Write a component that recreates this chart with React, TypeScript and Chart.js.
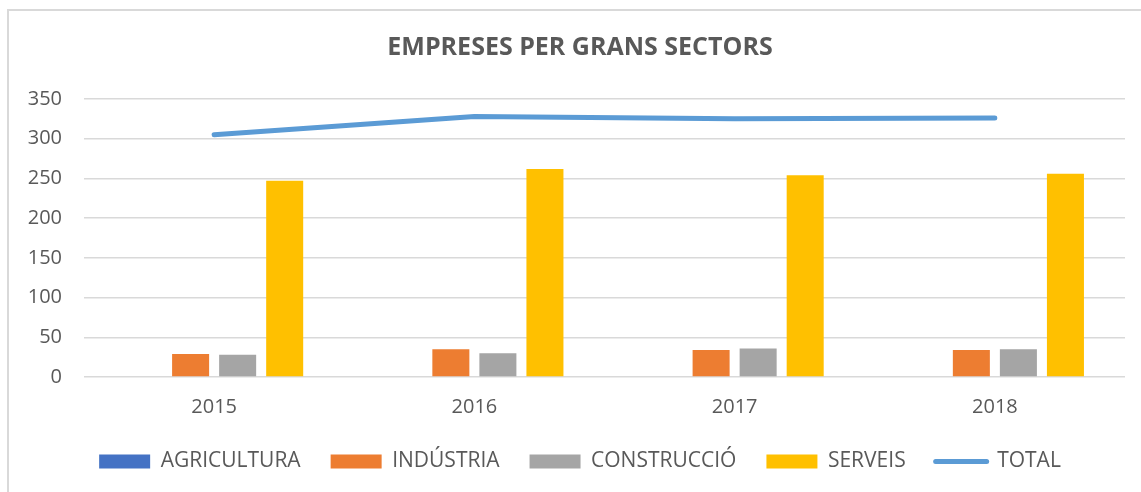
import React, { useEffect, useRef } from "react";
import { Chart, registerables } from "chart.js";

Chart.register(...registerables);

const categories = ["2015", "2016", "2017", "2018"];
const agricultura = [1, 1, 1, 1];
const industria = [29, 35, 34, 34];
const construccio = [28, 30, 36, 35];
const serveis = [247, 262, 254, 256];
const total = [305, 328, 325, 326];
const titleText = "EMPRESES PER GRANS SECTORS";

const FONT = "'Open Sans', 'Noto Sans', sans-serif";
const TEXT = "#595959";
const GRID = "#D9D9D9";

const unclipPlugin = {
  id: "unclipY",
  afterLayout(chart: any) {
    if (chart.scales && chart.scales.y) chart.scales.y.left = 0;
  },
};

export default function App() {
  const ref = useRef<HTMLCanvasElement | null>(null);

  useEffect(() => {
    if (!ref.current) return;
    const barCommon = { barPercentage: 0.787, categoryPercentage: 0.723, borderWidth: 0 };
    const chart = new Chart(ref.current, {
      type: "bar",
      data: {
        labels: categories,
        datasets: [
          { label: "AGRICULTURA", data: agricultura, backgroundColor: "#4472C4", ...barCommon },
          { label: "INDÚSTRIA", data: industria, backgroundColor: "#ED7D31", ...barCommon },
          { label: "CONSTRUCCIÓ", data: construccio, backgroundColor: "#A5A5A5", ...barCommon },
          { label: "SERVEIS", data: serveis, backgroundColor: "#FFC000", ...barCommon },
          {
            type: "line",
            label: "TOTAL",
            data: total,
            borderColor: "#5B9BD5",
            backgroundColor: "#5B9BD5",
            borderWidth: 5,
            borderCapStyle: "round",
            borderJoinStyle: "round",
            pointRadius: 0,
            tension: 0,
            fill: false,
          } as any,
        ],
      },
      options: {
        animation: false,
        responsive: false,
        layout: { padding: { left: 35, right: 16, top: 10, bottom: 10 } },
        scales: {
          x: {
            grid: { display: false, drawTicks: false },
            border: { display: false },
            ticks: { color: TEXT, font: { family: FONT, size: 20 }, padding: 18 },
            afterFit: (s: any) => { s.height = 44; },
          },
          y: {
            min: 0,
            max: 350,
            ticks: { stepSize: 50, color: TEXT, font: { family: FONT, size: 20 }, padding: 22 },
            grid: { color: GRID, lineWidth: 1.5, drawTicks: false },
            border: { display: false },
            afterFit: (s: any) => { s.width = 49; },
          },
        },
        plugins: {
          title: {
            display: true,
            text: titleText,
            color: TEXT,
            font: { family: FONT, size: 25, weight: "bold" },
            padding: { top: 22.5, bottom: 36.5 },
          },
          legend: {
            position: "bottom",
            labels: {
              usePointStyle: true,
              pointStyleWidth: 51,
              boxHeight: 14,
              padding: 30,
              color: TEXT,
              font: { family: FONT, size: 21 },
              generateLabels: (c: any) => {
                const items = Chart.defaults.plugins.legend.labels.generateLabels(c);
                return items.map((it: any, i: number) => {
                  if (i === 4) {
                    return { ...it, pointStyle: "line", lineWidth: 5, strokeStyle: "#5B9BD5", lineCap: "round" };
                  }
                  return { ...it, pointStyle: "rect", lineWidth: 0 };
                });
              },
            },
          },
          tooltip: { enabled: false },
        },
      },
      plugins: [unclipPlugin],
    });
    return () => chart.destroy();
  }, []);

  return (
    <>
      <div
        style={{
          position: "fixed",
          left: 7,
          top: 9,
          width: 1200,
          height: 600,
          borderLeft: "2px solid #D9D9D9",
          borderTop: "2px solid #D9D9D9",
          boxSizing: "border-box",
        }}
      />
      <canvas
        ref={ref}
        width={1141}
        height={492}
        style={{ position: "fixed", left: 0, top: 0, width: 1141, height: 492, display: "block" }}
      />
    </>
  );
}
